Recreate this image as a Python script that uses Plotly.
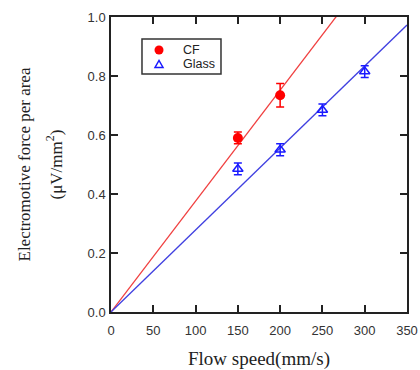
import plotly.graph_objects as go

# Data
cf_speed = [150, 200]
cf_emf = [0.59, 0.735]
cf_err = [0.02, 0.04]
glass_speed = [150, 200, 250, 300]
glass_emf = [0.485, 0.55, 0.685, 0.815]
glass_err = [0.02, 0.02, 0.02, 0.02]
fit_x = [0, 350]
cf_slope = 0.00376
glass_slope = 0.00278
x_ticks = [0, 50, 100, 150, 200, 250, 300, 350]
y_ticks = [0.0, 0.2, 0.4, 0.6, 0.8, 1.0]
series_names = ["CF", "Glass"]

RED = "#ff0000"
BLUE = "#1a1aff"
SERIF = "Liberation Serif, Times New Roman"
SANS = "Liberation Sans, Arial"

fig = go.Figure()
fig.add_trace(go.Scatter(x=fit_x, y=[cf_slope * v for v in fit_x], mode="lines",
                         line=dict(color="#f04040", width=1.3), showlegend=False))
fig.add_trace(go.Scatter(x=fit_x, y=[glass_slope * v for v in fit_x], mode="lines",
                         line=dict(color="#4040e0", width=1.3), showlegend=False))
fig.add_trace(go.Scatter(x=cf_speed, y=cf_emf, mode="markers", name=series_names[0], showlegend=False,
                         marker=dict(symbol="circle", size=10, color=RED),
                         error_y=dict(type="data", array=cf_err, color=RED, thickness=1.5, width=4)))
fig.add_trace(go.Scatter(x=glass_speed, y=glass_emf, mode="markers", name=series_names[1], showlegend=False,
                         marker=dict(symbol="triangle-up-open", size=9, color=BLUE, line=dict(width=1.5)),
                         error_y=dict(type="data", array=glass_err, color=BLUE, thickness=1.5, width=4)))

axis_common = dict(showline=True, linecolor="#222", linewidth=1.5, mirror="ticks",
                   ticks="inside", ticklen=7, tickwidth=1.5, tickcolor="#222",
                   showgrid=False, zeroline=False, automargin=False,
                   tickfont=dict(family=SANS, size=13, color="#333"))

fig.update_xaxes(range=[0, 350], tickvals=x_ticks, ticklabelstandoff=6, **axis_common,
                 title=dict(text="Flow speed(mm/s)", standoff=17,
                            font=dict(family=SERIF, size=19, color="#222")))
fig.update_yaxes(range=[0, 1.0], tickvals=y_ticks, tickformat=".1f", ticklabelstandoff=1,
                 **axis_common)

fig.add_annotation(text="Electromotive force per area", xref="paper", yref="paper",
                   x=0, y=0.5, xanchor="center", yanchor="middle", xshift=-87,
                   textangle=-90, showarrow=False,
                   font=dict(family=SERIF, size=17, color="#222"))
fig.add_annotation(text="(μV/mm<sup>2</sup>)", xref="paper", yref="paper",
                   x=0, y=0.5, xanchor="center", yanchor="middle", xshift=-57,
                   textangle=-90, showarrow=False,
                   font=dict(family=SERIF, size=17, color="#222"))

# Custom compact legend box
leg_y = [0.8881, 0.8407]
fig.add_shape(type="rect", xref="paper", yref="paper", x0=0.1047, x1=0.3716, y0=0.8068, y1=0.9254,
              line=dict(color="#333", width=1.5), fillcolor="white", layer="above")
leg_mx = 0.1622
fig.add_shape(type="circle", xref="paper", yref="paper", xsizemode="pixel", ysizemode="pixel",
              xanchor=leg_mx, yanchor=leg_y[0], x0=-4.5, x1=4.5, y0=-4.5, y1=4.5,
              fillcolor=RED, line=dict(color=RED, width=0), layer="above")
fig.add_shape(type="path", xref="paper", yref="paper", xsizemode="pixel", ysizemode="pixel",
              xanchor=leg_mx, yanchor=leg_y[1], path="M-4,-3.5 L4,-3.5 L0,3.5 Z",
              line=dict(color=BLUE, width=1.5), layer="above")
for name, yy in zip(series_names, leg_y):
    fig.add_annotation(text=name, xref="paper", yref="paper", x=0.2355, y=yy,
                       xanchor="left", yanchor="middle", showarrow=False,
                       font=dict(family=SANS, size=12.5, color="#222"))

fig.update_layout(
    width=420, height=370,
    margin=dict(l=111, r=13, t=17, b=58),
    paper_bgcolor="white", plot_bgcolor="white",
    showlegend=False,
)

fig.write_html("out.html")
